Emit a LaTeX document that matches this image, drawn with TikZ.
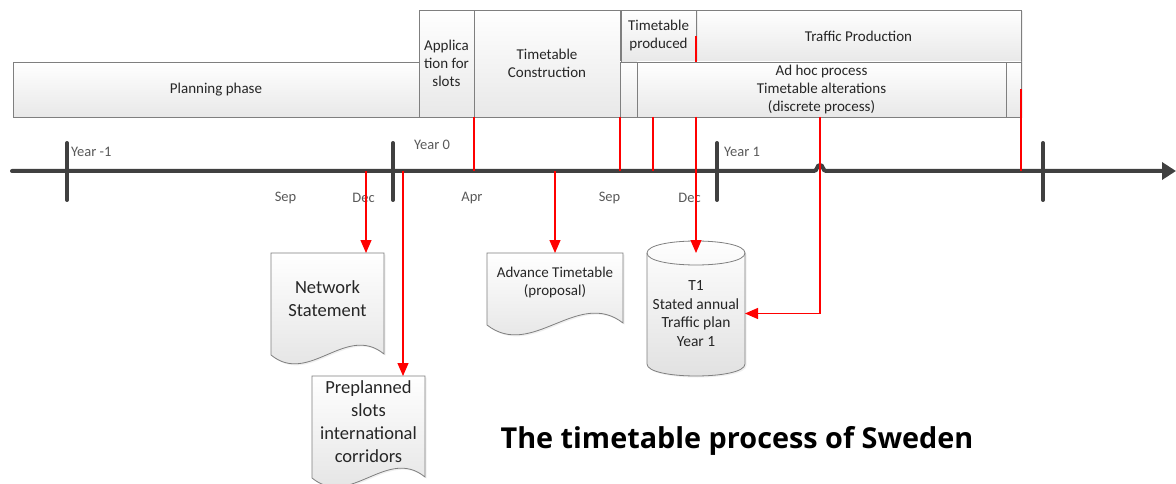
\documentclass[tikz,border=0pt]{standalone}
\usepackage{fontspec}
\setmainfont{Carlito}
\newfontfamily\titlefont{Open Sans}
\usetikzlibrary{arrows.meta,calc,shadows}
\definecolor{axisgray}{HTML}{404040}
\definecolor{labelgray}{HTML}{595959}
\definecolor{boxtext}{HTML}{262626}
\definecolor{boxborder}{HTML}{7F7F7F}
\begin{document}
\begin{tikzpicture}[x=1pt,y=-1pt,
  phasebox/.style={draw=boxborder, line width=0.8pt, top color=white, bottom color=black!9,
    text=boxtext, font=\fontsize{15}{18}\selectfont, align=center, inner sep=0pt, outer sep=0pt,
    drop shadow={opacity=0.12, shadow xshift=1.5pt, shadow yshift=-1.5pt}},
  docnode/.style={inner sep=0pt, outer sep=0pt, text=boxtext, align=center},
  docshape/.style={draw=boxborder, line width=0.8pt, top color=white, bottom color=black!12,
    drop shadow={opacity=0.12, shadow xshift=1.5pt, shadow yshift=-1.5pt}},
  axisline/.style={draw=axisgray, line width=4pt, line cap=round},
  ticksty/.style={draw=axisgray, line width=4pt, line cap=round},
  axlabel/.style={text=labelgray, font=\fontsize{14.5}{17}\selectfont, inner sep=0pt},
  redline/.style={draw=red, line width=1.2pt},
  redarrow/.style={draw=red, line width=1.2pt, -{Triangle[length=13pt,width=11pt]}}
]
\useasboundingbox[fill=white] (0,0) rectangle (1176,484);

% ---------- timeline coordinates ----------
\coordinate (axstart) at (12,171);
\coordinate (axend) at (1176,171);
\coordinate (cDec) at (366,171);
\coordinate (cJan) at (403,171);
\coordinate (cAdv) at (555,171);
\coordinate (c653) at (653,171);
\coordinate (c820) at (820,171);
\coordinate (t0a) at (67,143);   \coordinate (t0b) at (67,200);
\coordinate (t1a) at (393,143);  \coordinate (t1b) at (393,200);
\coordinate (t2a) at (717,143);  \coordinate (t2b) at (717,200);
\coordinate (t3a) at (1043,143); \coordinate (t3b) at (1043,200);

% ---------- phase boxes ----------
\node[phasebox, minimum width=406pt, minimum height=55pt] (plan) at (216,89.5) {Planning phase};
\node[phasebox, minimum width=55pt, minimum height=107pt] (appl) at (446.5,63.5) {Applica\\tion for\\slots};
\node[phasebox, minimum width=146pt, minimum height=107pt] (constr) at (547,63.5) {Timetable\\Construction};
\node[phasebox, minimum width=17pt, minimum height=55pt] (gapbox) at (628.5,89.5) {};
\node[phasebox, minimum width=325pt, minimum height=52pt] (traffic) at (858.5,36) {Traffic Production};
\node[phasebox, minimum width=75pt, minimum height=52pt] (prod) at (658.5,36) {Timetable\\produced};
\node[phasebox, minimum width=369pt, minimum height=55pt] (adhoc) at (821.5,89.5) {Ad hoc process\\Timetable alterations\\(discrete process)};
\node[phasebox, minimum width=15pt, minimum height=55pt] (endbox) at (1013.5,89.5) {};

% ---------- documents ----------
\node[docnode, minimum width=113pt, minimum height=91pt] (ns) at (327.5,298.5) {};
\node[docnode, minimum width=113pt, minimum height=91pt] (pre) at (368.5,421.5) {};
\node[docnode, minimum width=136pt, minimum height=59pt] (adv) at (555,282.5) {};
\node[docnode, minimum width=98pt, minimum height=121pt] (tone) at (696,313.5) {};

\path[docshape] (ns.north west) -- (ns.north east) -- ($(ns.south east)+(0,10)$)
  .. controls +(-38,-31) and +(38,31) .. ($(ns.south west)+(0,11)$) -- cycle;
\path[docshape] (pre.north west) -- (pre.north east) -- ($(pre.south east)+(0,10)$)
  .. controls +(-38,-31) and +(38,31) .. ($(pre.south west)+(0,11)$) -- cycle;
\path[docshape] (adv.north west) -- (adv.north east) -- ($(adv.south east)+(0,11)$)
  .. controls +(-45,-35) and +(45,35) .. ($(adv.south west)+(0,13)$) -- cycle;
\path[docshape] (tone.north west) -- ($(tone.south west)+(0,-10)$)
  .. controls +(0,16) and +(0,16) .. ($(tone.south east)+(0,-10)$) -- (tone.north east)
  .. controls +(0,-16) and +(0,-16) .. (tone.north west) -- cycle;
\draw[draw=boxborder, line width=0.8pt] (tone.north west) .. controls +(0,16) and +(0,16) .. (tone.north east);

\node[docnode, font=\fontsize{18.5}{23}\selectfont] (nstext) at (ns) {Network\\Statement};
\node[docnode, font=\fontsize{18.5}{23}\selectfont] (pretext) at (pre) {Preplanned\\slots\\international\\corridors};
\node[docnode, font=\fontsize{15}{19}\selectfont] (advtext) at (adv) {Advance Timetable\\(proposal)};
\node[docnode, font=\fontsize{15.5}{18.5}\selectfont] (tonetext) at (tone) {T1\\Stated annual\\Traffic plan\\Year 1};

% ---------- timeline ----------
\draw[axisline, -{Triangle[length=14pt,width=17pt]}] (axstart) -- (814,171)
  .. controls (817.5,171) and (816.5,165) .. (820,165)
  .. controls (823.5,165) and (822.5,171) .. (826,171) -- (axend);
\draw[ticksty] (t0a) -- (t0b);
\draw[ticksty] (t1a) -- (t1b);
\draw[ticksty] (t2a) -- (t2b);
\draw[ticksty] (t3a) -- (t3b);

\node[axlabel, anchor=west] (ym1) at (71,152) {Year -1};
\node[axlabel] (y0) at (432,145) {Year 0};
\node[axlabel, anchor=west] (y1) at (724,152) {Year 1};
\node[axlabel] (m1) at (285.5,198) {Sep};
\node[axlabel] (m2) at (363.5,198) {Dec};
\node[axlabel] (m3) at (472,198) {Apr};
\node[axlabel] (m4) at (609.5,198) {Sep};
\node[axlabel] (m5) at (689.5,198) {Dec};

% ---------- red connectors ----------
\draw[redline] (constr.south west) -- (constr.south west |- axstart);
\draw[redline] (constr.south east) -- (constr.south east |- axstart);
\draw[redline] (adhoc.south -| c653) -- (c653);
\draw[redline] (endbox.east) -- (endbox.east |- axstart);
\draw[redline] (prod.east) -- (prod.south east);
\draw[redarrow] (adhoc.south -| prod.south east) -- (tone.north);
\draw[redarrow] (adhoc.south -| c820) |- (tone.east);
\draw[redarrow] (cDec) -- (cDec |- ns.north);
\draw[redarrow] (cJan) -- (cJan |- pre.north);
\draw[redarrow] (cAdv) -- (adv.north);

% ---------- title ----------
\node[text=black, font=\titlefont\bfseries\fontsize{28.8}{33}\selectfont, inner sep=0pt] (title) at (737,441) {The timetable process of Sweden};
\end{tikzpicture}
\end{document}
